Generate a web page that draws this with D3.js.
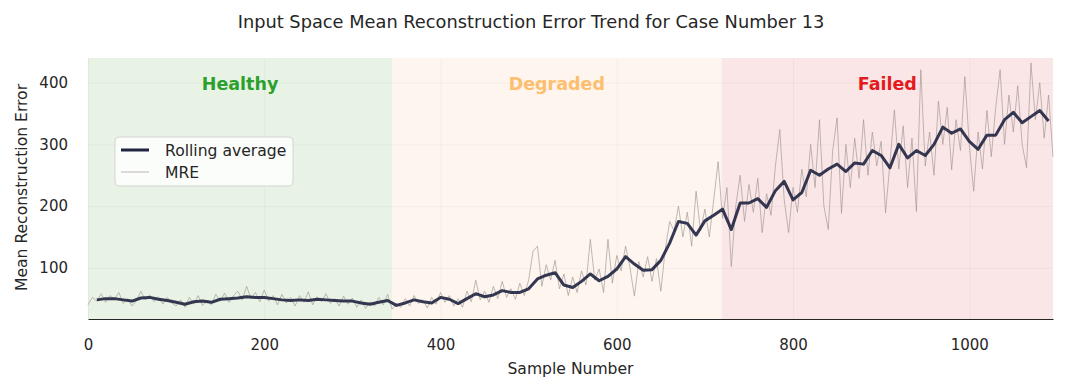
<!DOCTYPE html>
<html>
<head>
<meta charset="utf-8">
<script src="https://cdnjs.cloudflare.com/ajax/libs/d3/7.8.5/d3.min.js"></script>
<style>
  body { margin: 0; background: #fff; }
  text { font-family: "DejaVu Sans", sans-serif; fill: #262626; }
</style>
</head>
<body>
<div id="chart"></div>
<script>
// MRE, one value every 5 samples
const mreStep = 5;
const mre = [
  40, 52, 46, 58, 44, 55, 49, 60, 42, 50, 38, 47, 62, 48, 56, 45, 53, 41, 52, 43,
  38, 48, 36, 52, 41, 55, 39, 47, 40, 57, 46, 59, 44, 55, 62, 48, 70, 50, 60, 45,
  64, 46, 55, 40, 57, 43, 52, 38, 55, 44, 61, 40, 53, 45, 58, 42, 50, 38, 54, 41,
  51, 36, 48, 34, 45, 38, 52, 40, 57, 33, 42, 36, 50, 38, 55, 42, 48, 35, 52, 41,
  60, 44, 55, 38, 50, 36, 62, 45, 80, 48, 62, 44, 70, 50, 78, 52, 66, 49, 75, 55,
  80, 127, 135, 70, 105, 80, 112, 66, 90, 55, 85, 60, 95, 72, 146, 80, 98, 60, 146, 75,
  120, 95, 135, 100, 54, 110, 85, 118, 78, 115, 62, 130, 175, 160, 200, 150, 190, 135, 224, 160,
  195, 150, 210, 272, 180, 230, 102, 200, 250, 175, 235, 190, 245, 157, 220, 185, 265, 324, 210, 157,
  230, 190, 260, 215, 300, 230, 340, 200, 162, 290, 343, 188, 300, 230, 310, 245, 340, 250, 320, 265,
  305, 189, 270, 356, 260, 330, 230, 310, 191, 421, 265, 320, 250, 370, 300, 360, 259, 340, 290, 410,
  300, 224, 320, 260, 355, 280, 360, 421, 300, 380, 320, 395, 300, 262, 432, 340, 400, 310, 380, 280
];
// rolling average, samples 10, 20, ... 1090
const rollStart = 10;
const rollStep = 10;
const rolling = [
  48, 50, 50, 48, 46, 51, 52, 49, 47, 44,
  41, 45, 46, 44, 49, 50, 51, 53, 52, 52,
  50, 48, 47, 48, 47, 49, 48, 47, 46, 46,
  43, 41, 44, 47, 39, 43, 48, 45, 43, 52,
  49, 42, 50, 58, 53, 56, 63, 60, 60, 66,
  82, 88, 92, 72, 68, 78, 90, 79, 86, 98,
  118, 106, 96, 97, 112, 140, 175, 172, 153, 176,
  185, 195, 162, 205, 205, 212, 198, 225, 240, 210,
  222, 258, 250, 260, 268, 256, 270, 268, 290, 282,
  262, 300, 278, 290, 282, 300, 328, 318, 325, 305,
  292, 315, 315, 340, 352, 335, 345, 355, 338
];
const phases = ['Healthy', 'Degraded', 'Failed'];
const phaseBounds = [0, 345, 719, 1095];
const phaseFill = ['#e8f3e6', '#fdf5ee', '#fae6e6'];
const phaseText = ['#2ca02c', '#fdbf6f', '#e41a1c'];
const xTicks = [0, 200, 400, 600, 800, 1000];
const yTicks = [100, 200, 300, 400];

const width = 1067, height = 392;
const marginLeft = 88, marginRight = 14, marginTop = 58, marginBottom = 73;
const innerWidth = width - marginLeft - marginRight;
const innerHeight = height - marginTop - marginBottom;

const svg = d3.select('#chart').append('svg')
  .attr('width', width).attr('height', height);

svg.append('text')
  .attr('x', 531).attr('y', 28)
  .attr('text-anchor', 'middle')
  .style('font-size', '17.8px')
  .text('Input Space Mean Reconstruction Error Trend for Case Number 13');

const chart = svg.append('g')
  .attr('transform', 'translate(' + marginLeft + ',' + marginTop + ')');

const x = d3.scaleLinear().domain([0, 1095]).range([0, innerWidth]);
const y = d3.scaleLinear().domain([17, 440]).range([innerHeight, 0]);

// phase shading
chart.selectAll('rect.phase')
  .data(phases)
  .enter().append('rect')
  .attr('class', 'phase')
  .attr('x', (d, i) => x(phaseBounds[i]))
  .attr('width', (d, i) => x(phaseBounds[i + 1]) - x(phaseBounds[i]))
  .attr('y', 0).attr('height', innerHeight)
  .attr('fill', (d, i) => phaseFill[i]);

// grid
chart.append('g')
  .attr('transform', 'translate(0,' + innerHeight + ')')
  .call(d3.axisBottom(x).tickValues(xTicks).tickSize(-innerHeight).tickFormat(() => ''))
  .call(g => g.select('.domain').remove())
  .call(g => g.selectAll('text').remove())
  .call(g => g.selectAll('line').attr('stroke', '#000').attr('stroke-opacity', 0.035));
chart.append('g')
  .call(d3.axisLeft(y).tickValues(yTicks).tickSize(-innerWidth).tickFormat(() => ''))
  .call(g => g.select('.domain').remove())
  .call(g => g.selectAll('text').remove())
  .call(g => g.selectAll('line').attr('stroke', '#000').attr('stroke-opacity', 0.035));

// phase labels
chart.selectAll('text.phase')
  .data(phases)
  .enter().append('text')
  .attr('class', 'phase')
  .attr('x', (d, i) => x((phaseBounds[i] + phaseBounds[i + 1]) / 2))
  .attr('y', 32)
  .attr('text-anchor', 'middle')
  .style('font-size', '17.5px')
  .style('font-weight', 'bold')
  .style('fill', (d, i) => phaseText[i])
  .text(d => d);

// lines
const mreLine = d3.line()
  .x((d, i) => x(i * mreStep))
  .y(d => y(d));
chart.append('path')
  .datum(mre)
  .attr('fill', 'none')
  .attr('stroke', '#9e9592')
  .attr('stroke-opacity', 0.65)
  .attr('stroke-width', 1)
  .attr('d', mreLine);

const rollLine = d3.line()
  .x((d, i) => x(rollStart + i * rollStep))
  .y(d => y(d));
chart.append('path')
  .datum(rolling)
  .attr('fill', 'none')
  .attr('stroke', '#1f2440')
  .attr('stroke-opacity', 0.9)
  .attr('stroke-width', 3)
  .attr('stroke-linejoin', 'round')
  .attr('d', rollLine);

// axes
const xAxis = chart.append('g')
  .attr('transform', 'translate(0,' + innerHeight + ')')
  .call(d3.axisBottom(x).tickValues(xTicks).tickSize(0).tickPadding(20).tickFormat(d3.format('d')));
xAxis.select('.domain').attr('stroke', '#262626').attr('stroke-width', 1.2);
xAxis.selectAll('text').style('font-size', '15px').style('fill', '#262626')
  .style('font-family', '"DejaVu Sans", sans-serif');

const yAxis = chart.append('g')
  .call(d3.axisLeft(y).tickValues(yTicks).tickSize(0).tickPadding(20));
yAxis.select('.domain').remove();
yAxis.selectAll('text').style('font-size', '15px').style('fill', '#262626')
  .style('font-family', '"DejaVu Sans", sans-serif');

svg.append('text')
  .attr('x', marginLeft + innerWidth / 2).attr('y', 374)
  .attr('text-anchor', 'middle')
  .style('font-size', '15.6px')
  .text('Sample Number');
svg.append('text')
  .attr('transform', 'translate(27,' + (marginTop + innerHeight / 2 - 1) + ') rotate(-90)')
  .attr('text-anchor', 'middle')
  .style('font-size', '15.6px')
  .text('Mean Reconstruction Error');

// legend
const legend = svg.append('g').attr('transform', 'translate(115,137)');
legend.append('rect')
  .attr('width', 178).attr('height', 49)
  .attr('rx', 4)
  .attr('fill', '#fff').attr('fill-opacity', 0.8)
  .attr('stroke', '#d4d4d4');
legend.append('line')
  .attr('x1', 6).attr('x2', 34).attr('y1', 13).attr('y2', 13)
  .attr('stroke', '#1f2440').attr('stroke-width', 3);
legend.append('line')
  .attr('x1', 6).attr('x2', 34).attr('y1', 35).attr('y2', 35)
  .attr('stroke', '#9e9592').attr('stroke-opacity', 0.65).attr('stroke-width', 1);
legend.append('text').attr('x', 50).attr('y', 19)
  .style('font-size', '15.6px').text('Rolling average');
legend.append('text').attr('x', 50).attr('y', 41)
  .style('font-size', '15.6px').text('MRE');
</script>
</body>
</html>
